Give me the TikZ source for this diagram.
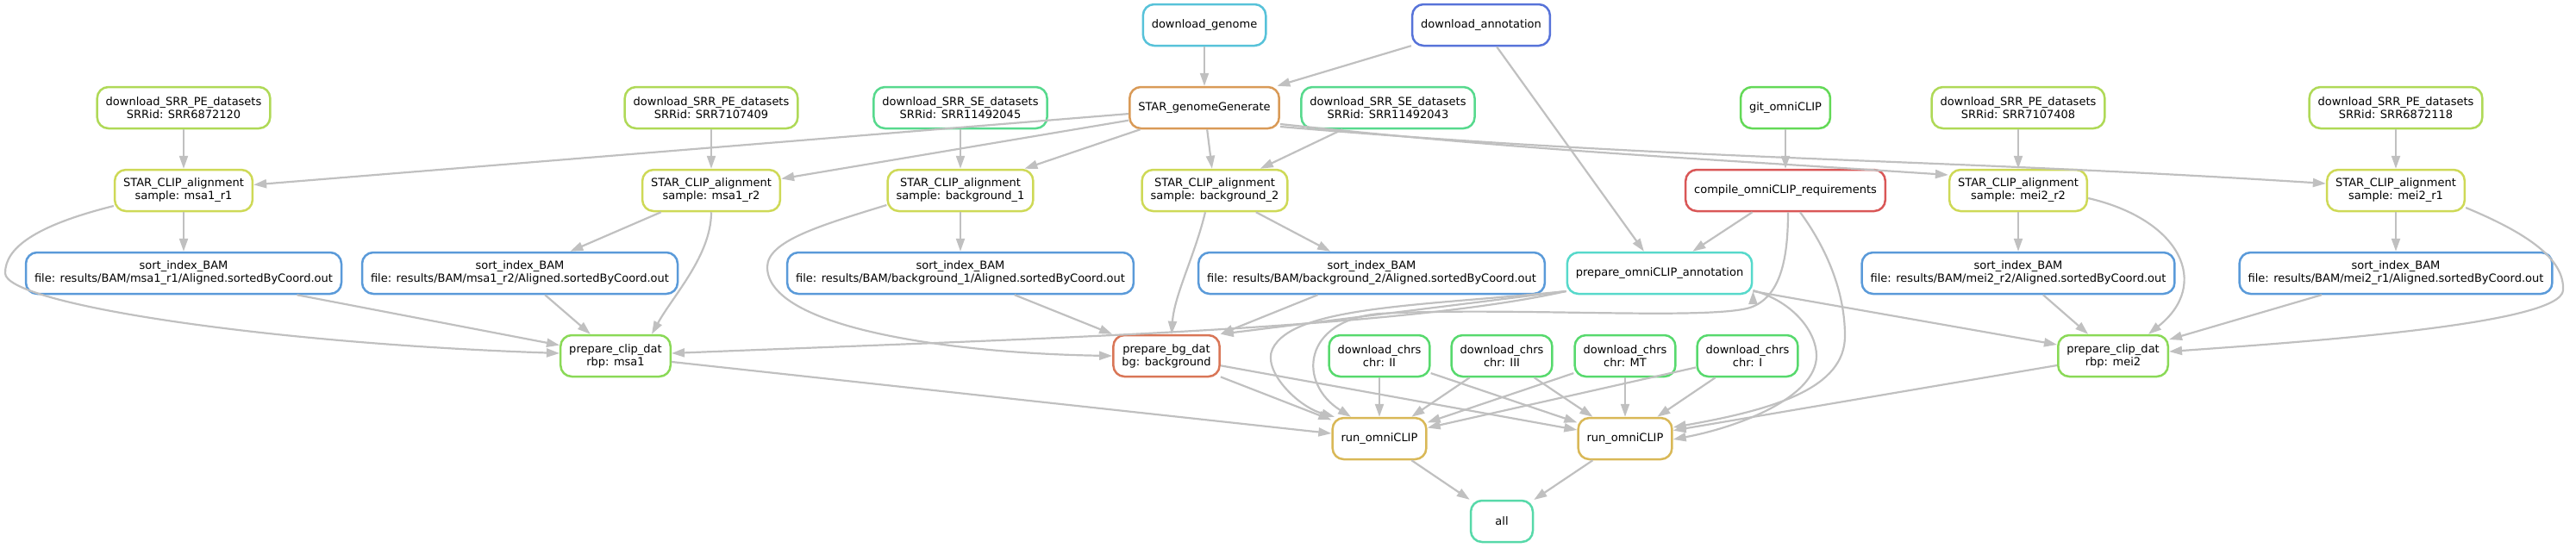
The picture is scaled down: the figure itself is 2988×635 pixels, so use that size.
\documentclass[tikz,border=0pt]{standalone}
\usepackage{fontspec}
\setmainfont{DejaVu Sans}
\usetikzlibrary{arrows.meta}

\definecolor{edgegray}{HTML}{C0C0C0}
\definecolor{cGenome}{HTML}{57C2D9}
\definecolor{cAnnot}{HTML}{5773D9}
\definecolor{cStarGen}{HTML}{D99A57}
\definecolor{cPE}{HTML}{AFD957}
\definecolor{cSE}{HTML}{57D98D}
\definecolor{cGit}{HTML}{63D957}
\definecolor{cClip}{HTML}{CED957}
\definecolor{cCompile}{HTML}{D95757}
\definecolor{cSort}{HTML}{5A9AD9}
\definecolor{cPrepAnnot}{HTML}{57D9CB}
\definecolor{cPrepClip}{HTML}{8AD957}
\definecolor{cPrepBg}{HTML}{D97657}
\definecolor{cChrs}{HTML}{57D96D}
\definecolor{cRun}{HTML}{D9B857}
\definecolor{cAll}{HTML}{57D9A9}

\begin{document}
\begin{tikzpicture}[x=1pt,y=-1pt,->,>={Triangle[length=15pt,width=10pt]},node distance=96pt,
    job/.style={draw,rounded corners=13pt,line width=2.5pt,fill=white,minimum height=48pt,minimum width=72pt,inner xsep=10pt,align=center,font=\fontsize{13}{15}\selectfont},
    link/.style={draw=edgegray,line width=2.2pt},
    every edge/.style={link}]
    \useasboundingbox (0,0) rectangle (2988,635);

    % rank 1 and 2
    \node[job] (genome) [draw=cGenome] at (1397,29) {download\_genome};
    \node[job] (annot) [draw=cAnnot] at (1718,29) {download\_annotation};
    \node[job] (stargen) [draw=cStarGen, below of=genome] {STAR\_genomeGenerate};
    \node[job] (pe1) [draw=cPE] at (213,125) {download\_SRR\_PE\_datasets\\SRRid: SRR6872120};
    \node[job] (pe2) [draw=cPE] at (825,125) {download\_SRR\_PE\_datasets\\SRRid: SRR7107409};
    \node[job] (se1) [draw=cSE] at (1114,125) {download\_SRR\_SE\_datasets\\SRRid: SRR11492045};
    \node[job] (se2) [draw=cSE] at (1610,125) {download\_SRR\_SE\_datasets\\SRRid: SRR11492043};
    \node[job] (git) [draw=cGit] at (2071,125) {git\_omniCLIP};
    \node[job] (pe3) [draw=cPE] at (2341,125) {download\_SRR\_PE\_datasets\\SRRid: SRR7107408};
    \node[job] (pe4) [draw=cPE] at (2779,125) {download\_SRR\_PE\_datasets\\SRRid: SRR6872118};

    % alignments
    \node[job] (msa1r1) [draw=cClip, below of=pe1] {STAR\_CLIP\_alignment\\sample: msa1\_r1};
    \node[job] (msa1r2) [draw=cClip, below of=pe2] {STAR\_CLIP\_alignment\\sample: msa1\_r2};
    \node[job] (bg1) [draw=cClip, below of=se1] {STAR\_CLIP\_alignment\\sample: background\_1};
    \node[job] (bg2) [draw=cClip] at (1409,221) {STAR\_CLIP\_alignment\\sample: background\_2};
    \node[job] (compile) [draw=cCompile, below of=git] {compile\_omniCLIP\_requirements};
    \node[job] (mei2r2) [draw=cClip, below of=pe3] {STAR\_CLIP\_alignment\\sample: mei2\_r2};
    \node[job] (mei2r1) [draw=cClip, below of=pe4] {STAR\_CLIP\_alignment\\sample: mei2\_r1};

    % sorting
    \node[job] (sortmsa1r1) [draw=cSort, below of=msa1r1] {sort\_index\_BAM\\file: results/BAM/msa1\_r1/Aligned.sortedByCoord.out};
    \node[job] (sortmsa1r2) [draw=cSort] at (603,317) {sort\_index\_BAM\\file: results/BAM/msa1\_r2/Aligned.sortedByCoord.out};
    \node[job] (sortbg1) [draw=cSort, below of=bg1] {sort\_index\_BAM\\file: results/BAM/background\_1/Aligned.sortedByCoord.out};
    \node[job] (sortbg2) [draw=cSort] at (1591,317) {sort\_index\_BAM\\file: results/BAM/background\_2/Aligned.sortedByCoord.out};
    \node[job] (prepannot) [draw=cPrepAnnot] at (1925,317) {prepare\_omniCLIP\_annotation};
    \node[job] (sortmei2r2) [draw=cSort, below of=mei2r2] {sort\_index\_BAM\\file: results/BAM/mei2\_r2/Aligned.sortedByCoord.out};
    \node[job] (sortmei2r1) [draw=cSort, below of=mei2r1] {sort\_index\_BAM\\file: results/BAM/mei2\_r1/Aligned.sortedByCoord.out};

    % prepare and chromosomes
    \node[job] (clipmsa1) [draw=cPrepClip] at (714,413) {prepare\_clip\_dat\\rbp: msa1};
    \node[job] (prepbg) [draw=cPrepBg] at (1353,413) {prepare\_bg\_dat\\bg: background};
    \node[job] (chrII) [draw=cChrs] at (1600,413) {download\_chrs\\chr: II};
    \node[job] (chrIII) [draw=cChrs, right of=chrII, node distance=142pt] {download\_chrs\\chr: III};
    \node[job] (chrMT) [draw=cChrs, right of=chrIII, node distance=143pt] {download\_chrs\\chr: MT};
    \node[job] (chrI) [draw=cChrs, right of=chrMT, node distance=142pt] {download\_chrs\\chr: I};
    \node[job] (clipmei2) [draw=cPrepClip] at (2451,413) {prepare\_clip\_dat\\rbp: mei2};

    \node[job] (runmsa1) [draw=cRun, below of=chrII] {run\_omniCLIP};
    \node[job] (runmei2) [draw=cRun, below of=chrMT] {run\_omniCLIP};
    \node[job] (all) [draw=cAll] at (1742,605) {all};

    \path[link]
        (genome) edge (stargen)
        (annot) edge (stargen)
        (annot) edge (prepannot)
        (pe1) edge (msa1r1)
        (pe2) edge (msa1r2)
        (se1) edge (bg1)
        (se2) edge (bg2)
        (pe3) edge (mei2r2)
        (pe4) edge (mei2r1)
        (git) edge (compile)
        (stargen) edge (msa1r1)
        (stargen) edge (msa1r2)
        (stargen) edge (bg1)
        (stargen) edge (bg2)
        (msa1r1) edge (sortmsa1r1)
        (msa1r2) edge (sortmsa1r2)
        (bg1) edge (sortbg1)
        (bg2) edge (sortbg2)
        (mei2r2) edge (sortmei2r2)
        (mei2r1) edge (sortmei2r1)
        (compile) edge (prepannot)
    ;

    \path[link]
        (sortmsa1r1) edge (clipmsa1)
        (sortmsa1r2) edge (clipmsa1)
        (sortbg1) edge (prepbg)
        (sortbg2) edge (prepbg)
        (sortmei2r2) edge (clipmei2)
        (sortmei2r1) edge (clipmei2)
        ([yshift=-21pt]prepannot.west) edge (prepbg.north east)
        ([yshift=-21pt]prepannot.east) edge ([yshift=13pt]clipmei2.west)
        (clipmsa1) edge (runmsa1)
        (prepbg) edge (runmsa1)
        (prepbg) edge (runmei2)
        (chrII) edge (runmsa1)
        (chrII) edge (runmei2)
        (chrIII) edge (runmsa1)
        (chrIII) edge (runmei2)
        (chrMT) edge (runmsa1)
        (chrMT) edge (runmei2)
        (chrI) edge (runmsa1)
        (chrI) edge (runmei2)
        (clipmei2) edge (runmei2)
        (runmsa1) edge (all)
        (runmei2) edge (all)
    ;

    % bent connectors
    \draw[link] ([yshift=-19pt]stargen.east) .. controls +(300,32) and +(-300,-20) .. ([yshift=18pt]mei2r2.west);
    \draw[link] ([yshift=-22pt]stargen.east) .. controls +(470,40) and +(-470,-30) .. ([yshift=8pt]mei2r1.west);
    \draw[link] ([yshift=-18pt]msa1r1.west) .. controls (40,262) and (6,288) .. (6,317) .. controls (6,352) and (300,398) .. ([yshift=3pt]clipmsa1.west);
    \draw[link] (msa1r2.south) .. controls +(0,50) and +(25,-45) .. ([xshift=42pt]clipmsa1.north);
    \draw[link] ([yshift=-17pt]bg1.west) .. controls (950,262) and (890,280) .. (890,310) .. controls (890,380) and (1100,410) .. (prepbg.west);
    \draw[link] ([xshift=-11pt]bg2.south) .. controls +(-12,50) and +(3,-45) .. ([xshift=6pt]prepbg.north);
    \draw[link] ([yshift=-9pt]mei2r2.east) .. controls (2530,255) and (2565,330) .. ([xshift=41pt]clipmei2.north);
    \draw[link] ([yshift=-20pt]mei2r1.east) .. controls (2930,270) and (2975,300) .. (2973,337) .. controls (2970,375) and (2700,395) .. ([yshift=5pt]clipmei2.east);
    \draw[link] ([yshift=-21pt]prepannot.west) .. controls (1620,382) and (1200,393) .. ([yshift=3pt]clipmsa1.east);
    \draw[link] ([yshift=-21pt]prepannot.west) .. controls (1650,355) and (1500,355) .. (1476,405) .. controls (1464,430) and (1505,472) .. ([xshift=-52pt]runmsa1.north);
    \draw[link] ([xshift=3pt]compile.south) .. controls +(0,55) and (2065,345) .. (2030,357) .. controls (1980,372) and (1750,356) .. (1600,364) .. controls (1510,372) and (1505,445) .. ([xshift=-33pt]runmsa1.north);
    \draw[link] ([yshift=-20pt]prepannot.east) .. controls (2080,350) and (2107,385) .. (2107,413) .. controls (2107,460) and (2020,495) .. ([yshift=-1pt]runmei2.east);
    \draw[link] ([xshift=17pt]compile.south) .. controls (2120,290) and (2140,340) .. (2140,390) .. controls (2140,450) and (2060,475) .. ([yshift=13pt]runmei2.east);
\end{tikzpicture}
\end{document}
